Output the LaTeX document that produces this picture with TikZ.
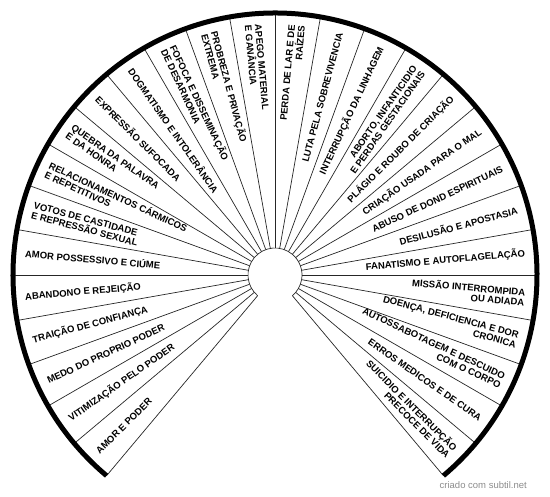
\documentclass[tikz,border=0pt]{standalone}
\usepackage{fontspec}
\setmainfont{Liberation Sans}
\usetikzlibrary{calc}
\begin{document}
\begin{tikzpicture}[x=1pt,y=1pt,
  spoke/.style={line width=0.7pt, draw=black!85},
  rim/.style={line width=5pt},
  lblbase/.style={font=\bfseries\fontsize{9.5}{10}\selectfont, inner sep=0pt},
  lblL/.style={lblbase, anchor=west, align=left},
  lblR/.style={lblbase, anchor=east, align=right}]
\useasboundingbox (0,0) rectangle (550,497);
\coordinate (c) at (275,222);
\foreach \a in {230,220,...,-50}
  \draw[spoke] ($(c)+(\a:27)$) -- ($(c)+(\a:262)$);
\draw[spoke] ($(c)+(230:27)$) arc[start angle=230, end angle=-50, radius=27];
\draw[rim] ($(c)+(230:262)$) arc[start angle=230, end angle=-50, radius=262];
% left side
\node[lblL, rotate=45]  (l1)  at ($(c)+(225:251)$) {AMOR E PODER};
\node[lblL, rotate=35]  (l2)  at ($(c)+(215:251)$) {VITIMIZAÇÃO PELO PODER};
\node[lblL, rotate=25]  (l3)  at ($(c)+(205:251)$) {MEDO DO PROPRIO PODER};
\node[lblL, rotate=15]  (l4)  at ($(c)+(195:251)$) {TRAIÇÃO DE CONFIANÇA};
\node[lblL, rotate=5]   (l5)  at ($(c)+(185:251)$) {ABANDONO E REJEIÇÃO};
\node[lblL, rotate=-5]  (l6)  at ($(c)+(175:251)$) {AMOR POSSESSIVO E CIÚME};
\node[lblL, rotate=-15] (l7)  at ($(c)+(165:251)$) {VOTOS DE CASTIDADE\\E REPRESSÃO SEXUAL};
\node[lblL, rotate=-25] (l8)  at ($(c)+(155:251)$) {RELACIONAMENTOS CÁRMICOS\\E REPETITIVOS};
\node[lblL, rotate=-35] (l9)  at ($(c)+(145:251)$) {QUEBRA DA PALAVRA\\E DA HONRA};
\node[lblL, rotate=-45] (l10) at ($(c)+(135:251)$) {EXPRESSÃO SUFOCADA};
\node[lblL, rotate=-55] (l11) at ($(c)+(125:251)$) {DOGMATISMO E INTOLERÂNCIA};
\node[lblL, rotate=-65] (l12) at ($(c)+(115:251)$) {FOFOCA E DISSEMINAÇÃO\\DE DESARMONIA};
\node[lblL, rotate=-75] (l13) at ($(c)+(105:251)$) {PROBREZA E PRIVAÇÃO\\EXTREMA};
\node[lblL, rotate=-85] (l14) at ($(c)+(95:251)$)  {APEGO MATERIAL\\E GANÂNCIA};
% right side
\node[lblR, rotate=85]  (l15) at ($(c)+(85:251)$)  {PERDA DE LAR E DE\\RAÍZES};
\node[lblR, rotate=75]  (l16) at ($(c)+(75:251)$)  {LUTA PELA SOBREVIVENCIA};
\node[lblR, rotate=65]  (l17) at ($(c)+(65:251)$)  {INTERRUPÇÃO DA LINHAGEM};
\node[lblR, rotate=55]  (l18) at ($(c)+(55:251)$)  {ABORTO, INFANTICIDIO\\E PERDAS GESTACIONAIS};
\node[lblR, rotate=45]  (l19) at ($(c)+(45:251)$)  {PLÁGIO E ROUBO DE CRIAÇÃO};
\node[lblR, rotate=35]  (l20) at ($(c)+(35:251)$)  {CRIAÇÃO USADA PARA O MAL};
\node[lblR, rotate=25]  (l21) at ($(c)+(25:251)$)  {ABUSO DE DOND ESPIRITUAIS};
\node[lblR, rotate=15]  (l22) at ($(c)+(15:251)$)  {DESILUSÃO E APOSTASIA};
\node[lblR, rotate=5]   (l23) at ($(c)+(5:251)$)   {FANATISMO E AUTOFLAGELAÇÃO};
\node[lblR, rotate=-5]  (l24) at ($(c)+(-5:251)$)  {MISSÃO INTERROMPIDA\\OU ADIADA};
\node[lblR, rotate=-15] (l25) at ($(c)+(-15:251)$) {DOENÇA, DEFICIENCIA E DOR\\CRONICA};
\node[lblR, rotate=-25] (l26) at ($(c)+(-25:251)$) {AUTOSSABOTAGEM E DESCUIDO\\COM O CORPO};
\node[lblR, rotate=-35] (l27) at ($(c)+(-35:251)$) {ERROS MEDICOS E DE CURA};
\node[lblR, rotate=-45] (l28) at ($(c)+(-45:251)$) {SUICIDIO E INTERRUPÇÃO\\PRECOCE DE VIDA};
% watermark
\node[font=\fontsize{9.5}{10}\selectfont, text=black!45, anchor=east, inner sep=0pt] (wm) at (527,12) {criado com subtil.net};
\end{tikzpicture}
\end{document}
